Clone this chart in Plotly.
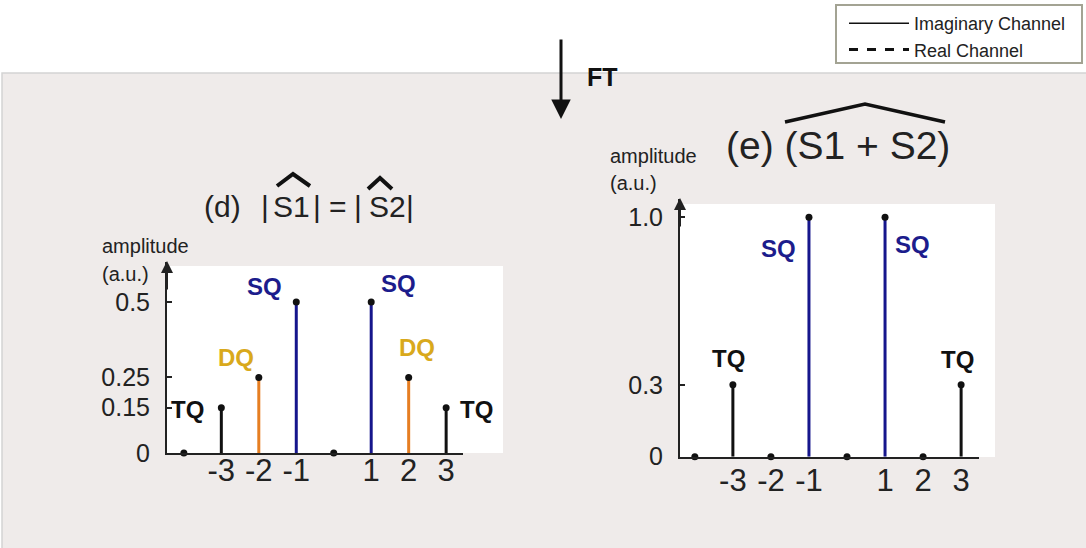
import plotly.graph_objects as go

W, H = 1086, 548
FONT = "Liberation Sans, Arial, Helvetica, sans-serif"

# ---------------- data ----------------
freq = [-4, -3, -2, -1, 0, 1, 2, 3]
amp_d = [0, 0.15, 0.25, 0.5, 0, 0.5, 0.25, 0.15]
comp_d = ["", "TQ", "DQ", "SQ", "", "SQ", "DQ", "TQ"]
amp_e = [0, 0.3, 0, 1.0, 0, 1.0, 0, 0.3]
comp_e = ["", "TQ", "", "SQ", "", "SQ", "", "TQ"]
xtick_vals = [-3, -2, -1, 1, 2, 3]
xtick_text = ["-3", "-2", "-1", "1", "2", "3"]
ytick_d = [0, 0.15, 0.25, 0.5]
ytick_d_text = ["0", "0.15", "0.25", "0.5"]
ytick_e = [0, 0.3, 1.0]
ytick_e_text = ["0", "0.3", "1.0"]
legend_names = ["Imaginary Channel", "Real Channel"]

# ---------------- styles ----------------
stem_color = {"TQ": "#111111", "DQ": "#e67e22", "SQ": "#16168c"}
label_color = {"TQ": "#111111", "DQ": "#d9a91c", "SQ": "#1c1c8c"}
AX = "#222222"
TXT = "#222222"


def px(x):
    return x / W


def py(y):
    return 1 - y / H


fig = go.Figure()


def add_stems(freqs, amps, comps, xa, ya):
    for c in ["TQ", "DQ", "SQ"]:
        xs, ys = [], []
        for f, a, cc in zip(freqs, amps, comps):
            if cc == c:
                xs += [f, f, None]
                ys += [0, a, None]
        if xs:
            fig.add_trace(go.Scatter(x=xs, y=ys, mode="lines", xaxis=xa, yaxis=ya,
                                     line=dict(color=stem_color[c], width=3),
                                     showlegend=False, hoverinfo="skip", cliponaxis=False))
    fig.add_trace(go.Scatter(x=freqs, y=amps, mode="markers", xaxis=xa, yaxis=ya,
                             marker=dict(color="#111111", size=7),
                             showlegend=False, cliponaxis=False))


add_stems(freq, amp_d, comp_d, "x", "y")
add_stems(freq, amp_e, comp_e, "x2", "y2")

# legend entries
fig.add_trace(go.Scatter(x=[None], y=[None], mode="lines", name=legend_names[0],
                         line=dict(color="#111111", width=1.5)))
fig.add_trace(go.Scatter(x=[None], y=[None], mode="lines", name=legend_names[1],
                         line=dict(color="#111111", width=3, dash="dash")))

# ---------------- component labels ----------------
offs_d = {1: (-34, -2), 2: (-23, 20), 3: (-32, 15), 5: (27, 18), 6: (8, 30), 7: (30, -2)}
offs_e = {1: (-4, 26), 3: (-30, -31), 5: (27, -27), 7: (-4, 25)}
annotations = []
for (amps, comps, offs, xr, yr) in [(amp_d, comp_d, offs_d, "x", "y"),
                                     (amp_e, comp_e, offs_e, "x2", "y2")]:
    for i, (f, a, c) in enumerate(zip(freq, amps, comps)):
        if c:
            dx, dy = offs[i]
            annotations.append(dict(x=f, y=a, xref=xr, yref=yr, text=f"<b>{c}</b>",
                                    showarrow=False, xshift=dx, yshift=dy,
                                    font=dict(family=FONT, size=24, color=label_color[c]),
                                    xanchor="center", yanchor="middle"))


def txt(x, y, s, size, anchor="center", color=TXT):
    return dict(x=px(x), y=py(y), xref="paper", yref="paper", text=s, showarrow=False,
                font=dict(family=FONT, size=size, color=color),
                xanchor=anchor, yanchor="middle")


# title (d) pieces
annotations += [
    txt(222, 206, "(d)", 30),
    txt(265, 206, "|", 30),
    txt(291, 206, "S1", 30),
    txt(317, 206, "|", 30),
    txt(338, 206, "=", 30),
    txt(358, 206, "|", 30),
    txt(387, 206, "S2", 30),
    txt(410, 206, "|", 30),
]
annotations += [
    txt(838, 145, "(e) (S1 + S2)", 39),
    txt(100, 246, "amplitude", 20, "left"),
    txt(100, 274, "(a.u.)", 20, "left"),
    txt(608, 156, "amplitude", 20, "left"),
    txt(608, 183, "(a.u.)", 20, "left"),
    txt(585, 77, "<b>FT</b>", 25, "left", "#111"),
    # FT arrow
    dict(x=px(561), y=py(119), xref="paper", yref="paper", text="", showarrow=True,
         ax=0, ay=-81, arrowhead=2, arrowsize=1.3, arrowwidth=3, arrowcolor="#111"),
    # y-axis arrows
    dict(x=px(167), y=py(261), xref="paper", yref="paper", text="", showarrow=True,
         ax=0, ay=30, arrowhead=2, arrowsize=1.2, arrowwidth=2, arrowcolor=AX),
    dict(x=px(680), y=py(198), xref="paper", yref="paper", text="", showarrow=True,
         ax=0, ay=30, arrowhead=2, arrowsize=1.2, arrowwidth=2, arrowcolor=AX),
]

# ---------------- shapes ----------------
shapes = [
    dict(type="rect", xref="paper", yref="paper", x0=px(2), y0=py(73), x1=px(1090), y1=py(560),
         fillcolor="#efebea", line=dict(color="#d4d4d4", width=1.5), layer="below"),
    dict(type="rect", xref="paper", yref="paper", x0=px(167), y0=py(266), x1=px(503), y1=py(453),
         fillcolor="white", line=dict(width=0), layer="below"),
    dict(type="rect", xref="paper", yref="paper", x0=px(680), y0=py(204), x1=px(995), y1=py(457),
         fillcolor="white", line=dict(width=0), layer="below"),
    dict(type="rect", xref="paper", yref="paper", x0=px(836), y0=py(5), x1=px(1082), y1=py(63),
         fillcolor="white", line=dict(color="#a3a393", width=2), layer="below"),
    # hats
    dict(type="path", xref="paper", yref="paper",
         path=f"M {px(277)},{py(186)} L {px(293)},{py(174)} L {px(310)},{py(186)}",
         line=dict(color="#111", width=4)),
    dict(type="path", xref="paper", yref="paper",
         path=f"M {px(368)},{py(189)} L {px(380)},{py(178)} L {px(392)},{py(189)}",
         line=dict(color="#111", width=4)),
    dict(type="path", xref="paper", yref="paper",
         path=f"M {px(785)},{py(122)} L {px(865)},{py(104)} L {px(945)},{py(122)}",
         line=dict(color="#111", width=3.5)),
]

common_x = dict(showgrid=False, zeroline=False, showline=True, linecolor=AX, linewidth=2,
                ticks="", tickvals=xtick_vals, ticktext=xtick_text,
                tickfont=dict(family=FONT, size=31, color=TXT), fixedrange=True,
                automargin=False)
common_y = dict(showgrid=False, zeroline=False, showline=True, linecolor=AX, linewidth=2,
                ticks="inside", ticklen=5, tickwidth=1.5, tickcolor=AX,
                tickfont=dict(family=FONT, size=25, color=TXT), ticklabelstandoff=10,
                fixedrange=True, automargin=False)

fig.update_layout(
    width=W, height=H, margin=dict(l=0, r=0, t=0, b=0, autoexpand=False),
    paper_bgcolor="white", plot_bgcolor="rgba(0,0,0,0)",
    xaxis=dict(domain=[px(167), px(463)], range=[-4.45, 3.45], anchor="y",
               ticklabelstandoff=-11, **common_x),
    yaxis=dict(domain=[py(453), py(262)], range=[0, 0.632], anchor="x",
               tickvals=ytick_d, ticktext=ytick_d_text, **common_y),
    xaxis2=dict(domain=[px(680), px(979)], range=[-4.39, 3.47], anchor="y2",
                ticklabelstandoff=-5, **common_x),
    yaxis2=dict(domain=[py(456.7), py(199)], range=[0, 1.076], anchor="x2",
                tickvals=ytick_e, ticktext=ytick_e_text, **common_y),
    legend=dict(x=px(844), y=py(5), xanchor="left", yanchor="top",
                bgcolor="rgba(0,0,0,0)", borderwidth=0, itemwidth=60,
                font=dict(family=FONT, size=18, color=TXT), tracegroupgap=0),
    annotations=annotations, shapes=shapes, showlegend=True,
)

fig.write_html("out.html")
